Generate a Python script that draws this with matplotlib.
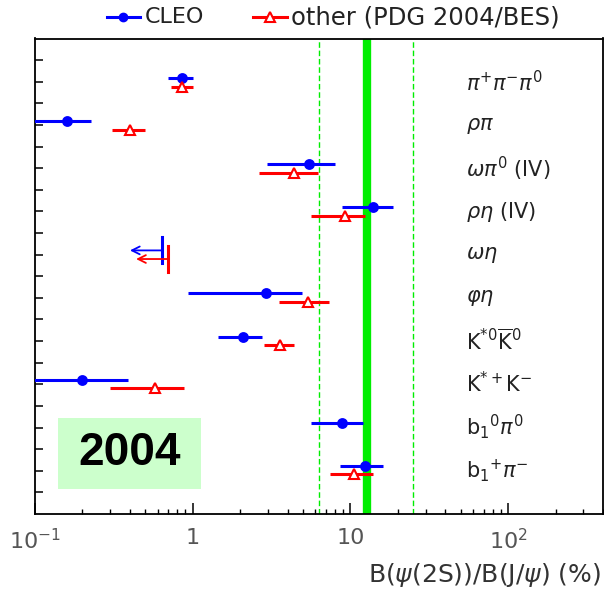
import numpy as np
import matplotlib
matplotlib.use("Agg")
import matplotlib.pyplot as plt
from matplotlib.lines import Line2D
from matplotlib.patches import Rectangle

plt.rcParams['font.family'] = ['Liberation Sans', 'DejaVu Sans']
plt.rcParams['mathtext.fontset'] = 'dejavusans'

# Decay modes, top to bottom
modes = [r'$\pi^{+}\pi^{-}\pi^{0}$',
         r'$\rho\pi$',
         r'$\omega\pi^{0}$ (IV)',
         r'$\rho\eta$ (IV)',
         r'$\omega\eta$',
         r'$\varphi\eta$',
         r'$\mathrm{K}^{*0}\overline{\mathrm{K}}^{0}$',
         r'$\mathrm{K}^{*+}\mathrm{K}^{-}$',
         r'$\mathrm{b}_{1}{}^{0}\pi^{0}$',
         r'$\mathrm{b}_{1}{}^{+}\pi^{-}$']

# CLEO ratios Q = B(psi(2S))/B(J/psi) in %, with lower / upper error bounds
cleo_val = [0.85, 0.16, 5.5, 13.9, np.nan, 2.9, 2.09, 0.20, 8.9, 12.3]
cleo_lo  = [0.70, 0.093, 2.96, 8.9, np.nan, 0.94, 1.44, 0.02, 5.6, 8.6]
cleo_hi  = [1.01, 0.227, 8.0, 18.6, np.nan, 4.9, 2.74, 0.387, 12.0, 16.0]
cleo_ul  = [np.nan, np.nan, np.nan, np.nan, 0.64, np.nan, np.nan, np.nan, np.nan, np.nan]

# PDG 2004 / BES ratios
other_val = [0.86, 0.40, 4.4, 9.2, np.nan, 5.4, 3.57, 0.58, np.nan, 10.5]
other_lo  = [0.73, 0.31, 2.62, 5.6, np.nan, 3.54, 2.82, 0.30, np.nan, 7.4]
other_hi  = [1.00, 0.50, 6.24, 12.3, np.nan, 7.3, 4.40, 0.88, np.nan, 13.9]
other_ul  = [np.nan, np.nan, np.nan, np.nan, 0.70, np.nan, np.nan, np.nan, np.nan, np.nan]

# 12% rule band and its spread
rule_12 = 12.7
rule_bounds = [6.3, 24.8]

BLUE = '#0000ff'
RED = '#ff0000'
GREEN = '#00ee00'
WIDE = ['DejaVu Sans']

fig = plt.figure(figsize=(6.04, 5.90), dpi=100)
ax = fig.add_axes([35/604, 1-514/590, 568/604, 475.5/590])
ax.set_xscale('log')
ax.set_xlim(0.1, 400)
ylim = (10.12, -0.92)
ax.set_ylim(*ylim)

# 12% rule lines
for b in rule_bounds:
    ax.axvline(b, color=GREEN, lw=1.0, ls=(0, (4, 2)), zorder=1)
ax.axvline(rule_12, color=GREEN, lw=6, zorder=1)

rows = np.arange(len(modes))
dy = 0.2


def draw_series(vals, los, his, uls, yoff, color, marker, mfc, ms):
    for i in rows:
        y = i + yoff
        v = vals[i]
        if not np.isnan(v):
            ax.plot([los[i], his[i]], [y, y], color=color, lw=2.2,
                    solid_capstyle='butt', zorder=3)
            ax.plot([v], [y], marker=marker, color=color, mfc=mfc,
                    mec=color, ms=ms, mew=1.5, zorder=4, clip_on=False)
        ul = uls[i]
        if not np.isnan(ul):
            ax.plot([ul, ul], [y - 0.3, y + 0.3], color=color, lw=2.2, zorder=3)
            ax.annotate('', xy=(ul / 1.6, y), xytext=(ul, y),
                        arrowprops=dict(arrowstyle='->', color=color, lw=1.3,
                                        shrinkA=0, shrinkB=0,
                                        mutation_scale=14), zorder=3)


draw_series(cleo_val, cleo_lo, cleo_hi, cleo_ul, 0.0, BLUE, 'o', BLUE, 6.3)
draw_series(other_val, other_lo, other_hi, other_ul, dy, RED, '^', 'white', 7)

# Decay-mode labels
for i, m in enumerate(modes):
    ax.text(0.759, i + 0.1, m, transform=ax.get_yaxis_transform(),
            fontsize=15, va='center', ha='left', color='#222222', family=WIDE)

# Axes styling
for s in ax.spines.values():
    s.set_linewidth(1.3)
ax.set_xticks([0.1, 1, 10, 100])
ax.set_xticklabels(['10$^{-1}$', '1', '10', '10$^{2}$'], fontsize=16,
                   color='#555555', family=WIDE)
ax.tick_params(axis='x', which='major', direction='in', length=8, width=1.1,
               pad=10, top=False)
ax.tick_params(axis='x', which='minor', direction='in', length=3.5, width=1.0,
               top=False)
yt = np.linspace(ylim[1], ylim[0], 23)[1:-1]
ax.set_yticks(yt)
ax.set_yticklabels([])
ax.tick_params(axis='y', direction='in', length=6, width=1.1, right=False)

fig.text(0.995, 1 - 575/590, r'B($\psi$(2S))/B(J/$\psi$) (%)', ha='right',
         va='center', fontsize=18, color='#333333', family=WIDE)

# Legend drawn in figure space
ly = 1 - 17/590
fig.add_artist(Line2D([107/604, 140/604], [ly, ly], color=BLUE, lw=2.2))
fig.add_artist(Line2D([123/604], [ly], marker='o', color=BLUE, ms=6))
fig.text(145/604, ly, 'CLEO', fontsize=16, va='center', ha='left',
         color='#222222', family=WIDE)
fig.add_artist(Line2D([253/604, 287/604], [ly, ly], color=RED, lw=2.2))
fig.add_artist(Line2D([270/604], [ly], marker='^', color=RED, mfc='white',
                      mec=RED, ms=7, mew=1.5))
fig.text(291/604, ly, 'other (PDG 2004/BES)', fontsize=17.5, va='center',
         ha='left', color='#222222', family=WIDE)

# Year tag
fig.add_artist(Rectangle((58/604, 1 - 489/590), 143/604, 71/590,
                         transform=fig.transFigure, facecolor='#ccffcc',
                         edgecolor='none', zorder=5))
fig.text(130/604, 1 - 453/590, '2004', fontsize=33, fontweight='bold',
         ha='center', va='center', color='black', zorder=6)

fig.savefig('out.png', dpi=100)
